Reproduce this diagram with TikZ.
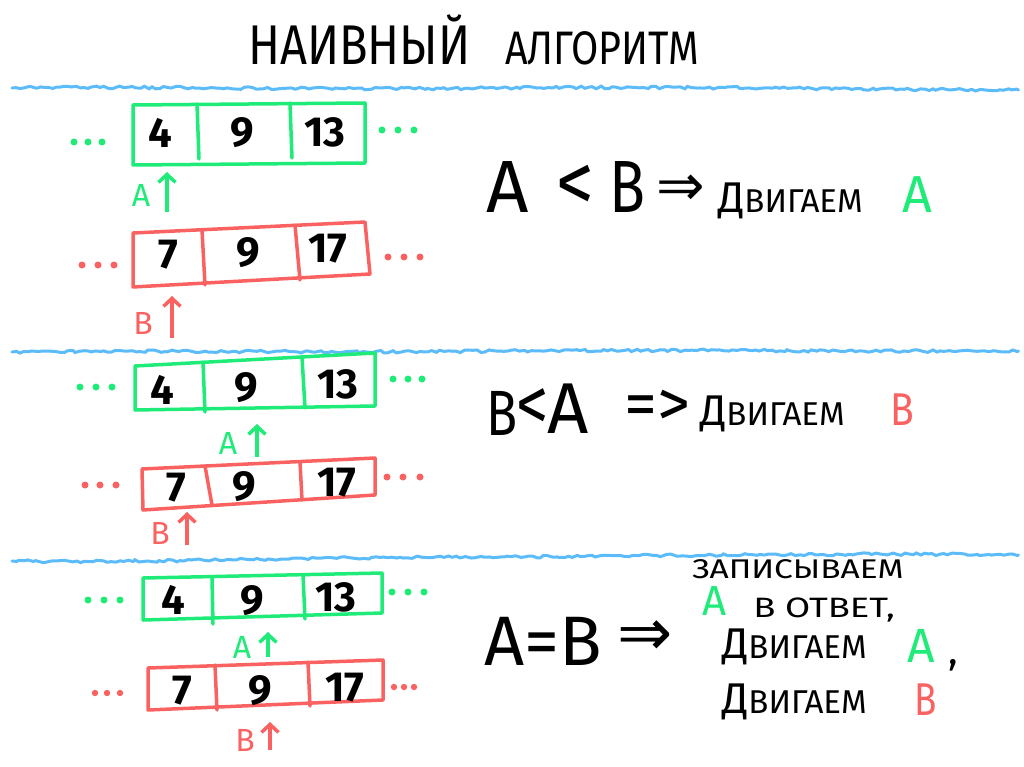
\documentclass[tikz,border=0pt]{standalone}
\usepackage{fontspec}
\setmainfont{Fira Sans}
\newfontfamily\symfont{DejaVu Sans}
\usetikzlibrary{arrows.meta,decorations.pathmorphing}
\definecolor{grn}{RGB}{30,235,120}
\definecolor{rd}{RGB}{250,98,98}
\definecolor{sky}{RGB}{92,188,250}
\tikzset{
  box/.style={line width=3.5pt, line join=round, line cap=round},
  gbox/.style={box, draw=grn},
  rbox/.style={box, draw=rd},
  num/.style={font=\fontsize{42}{42}\selectfont\bfseries, text=black, inner sep=0},
  gptr/.style={draw=grn, line width=3.5pt, -{Straight Barb[length=8pt,width=17pt]}},
  rptr/.style={draw=rd, line width=3.5pt, -{Straight Barb[length=8pt,width=17pt]}},
  plbl/.style={inner sep=0, font=\fontsize{32}{32}\selectfont},
  wave/.style={draw=sky, line width=3pt, line cap=round, decorate,
    decoration={random steps, segment length=4pt, amplitude=1.3pt}},
  txt/.style={inner sep=0, anchor=base west, text=black},
  gdot/.style={fill=grn, draw=none},
  rdot/.style={fill=rd, draw=none},
}
\newcommand{\bigD}{{\fontsize{43}{43}\selectfont Д}}
\newcommand{\dvig}{\bigD{\fontsize{33}{33}\selectfont ВИГАЕМ}}
\begin{document}
\begin{tikzpicture}[x=1pt,y=-1pt]
\pgfmathsetseed{7}
\useasboundingbox (0,0) rectangle (1024,767);

% title
\node[txt, font=\fontsize{56}{56}\selectfont, xscale=0.84] (t1) at (248,65) {НАИВНЫЙ};
\node[txt, font=\fontsize{47}{47}\selectfont, xscale=0.84] (t2) at (505,65) {АЛГОРИТМ};

% separators
\draw[wave] (12,88) .. controls (150,86) and (300,90) .. (500,88) .. controls (700,86) and (900,90) .. (1018,90);
\draw[wave] (12,352) .. controls (150,350) and (300,353) .. (500,351) .. controls (700,349) and (900,352) .. (1018,351);
\draw[wave] (12,561) .. controls (150,563) and (300,557) .. (500,557) .. controls (700,555) and (900,553) .. (1018,555);

% ===== section 1 =====
\draw[gbox] (133,105) -- (365,103) -- (365,163) -- (133,165) -- cycle;
\draw[gbox] (197,104) -- (199,159) (290,103) -- (292,158);
\node[num] (a11) at (160,133) {4};
\node[num] (a12) at (242,133) {9};
\node[num] (a13) at (325,132) {13};
\foreach \x in {74,88,102} \fill[gdot] (\x,142) circle (3.5pt);
\foreach \x in {382,398,414} \fill[gdot] (\x,130) circle (3.5pt);
\coordinate (pa1) at (167,212);
\coordinate (ta1) at (167,172);
\draw[gptr] (pa1) -- (ta1);
\node[plbl, text=grn] (la1) at (141,195) {A};

\draw[rbox] (133,233) -- (365,222) -- (370,274) -- (133,287) -- cycle;
\draw[rbox] (202,230) -- (205,285) (295,225) -- (300,280);
\node[num] (b11) at (168,255) {7};
\node[num] (b12) at (248,253) {9};
\node[num] (b13) at (328,249) {17};
\foreach \x in {82,98,114} \fill[rdot] (\x,265) circle (3.5pt);
\foreach \x in {388,404,420} \fill[rdot] (\x,257) circle (3.5pt);
\coordinate (pb1) at (172,338);
\coordinate (tb1) at (172,296);
\draw[rptr] (pb1) -- (tb1);
\node[plbl, text=rd] (lb1) at (143,323) {B};

\node[txt, font=\fontsize{74}{74}\selectfont] (e1a) at (486,213) {A};
\node[inner sep=0, font=\fontsize{84}{84}\selectfont, xscale=0.9] (e1b) at (575,188) {<};
\node[txt, font=\fontsize{74}{74}\selectfont, xscale=0.8] (e1c) at (609,213) {B};
\node[inner sep=0, font=\symfont\fontsize{58}{58}\selectfont] (e1d) at (681,190) {⇒};
\node[txt] (e1e) at (718,213) {\dvig};
\node[txt, text=grn, font=\fontsize{52}{52}\selectfont] (e1f) at (902,213) {A};

% ===== section 2 =====
\draw[gbox] (135,366) -- (375,353) -- (375,406) -- (135,410) -- cycle;
\draw[gbox] (203,362) -- (205,412) (302,357) -- (305,408);
\node[num] (a21) at (162,390) {4};
\node[num] (a22) at (246,388) {9};
\node[num] (a23) at (338,384) {13};
\foreach \x in {80,96,112} \fill[gdot] (\x,387) circle (3.5pt);
\foreach \x in {393,408,422} \fill[gdot] (\x,379) circle (3.5pt);
\coordinate (pa2) at (257,457);
\coordinate (ta2) at (257,424);
\draw[gptr] (pa2) -- (ta2);
\node[plbl, text=grn] (la2) at (228,443) {A};

\draw[rbox] (142,469) -- (375,458) -- (375,495) -- (143,510) -- cycle;
\draw[rbox] (205,466) -- (212,505) (300,462) -- (302,500);
\node[num] (b21) at (176,488) {7};
\node[num] (b22) at (244,487) {9};
\node[num] (b23) at (337,483) {17};
\foreach \x in {85,100,116} \fill[rdot] (\x,485) circle (3.5pt);
\foreach \x in {387,403,420} \fill[rdot] (\x,477) circle (3.5pt);
\coordinate (pb2) at (187,545);
\coordinate (tb2) at (187,512);
\draw[rptr] (pb2) -- (tb2);
\node[plbl, text=rd] (lb2) at (160,533) {B};

\node[txt, font=\fontsize{64}{64}\selectfont, xscale=0.8] (e2a) at (486,435) {B};
\node[inner sep=0, font=\fontsize{76}{76}\selectfont, xscale=0.85] (e2b) at (533,410) {<};
\node[txt, font=\fontsize{72}{72}\selectfont] (e2c) at (547,433) {A};
\node[inner sep=0, font=\fontsize{66}{66}\selectfont] (e2d) at (657,408) {=>};
\node[txt] (e2e) at (700,425) {\dvig};
\node[txt, text=rd, font=\fontsize{46}{46}\selectfont, xscale=0.85] (e2f) at (890,425) {B};

% ===== section 3 =====
\draw[gbox] (143,578) -- (382,573) -- (382,613) -- (143,620) -- cycle;
\draw[gbox] (212,578) -- (213,624) (303,575) -- (305,619);
\node[num] (a31) at (173,600) {4};
\node[num] (a32) at (252,601) {9};
\node[num] (a33) at (336,597) {13};
\foreach \x in {88,104,120} \fill[gdot] (\x,600) circle (3.5pt);
\foreach \x in {392,408,424} \fill[gdot] (\x,592) circle (3.5pt);
\coordinate (pa3) at (268,657);
\coordinate (ta3) at (268,632);
\draw[gptr] (pa3) -- (ta3);
\node[plbl, text=grn] (la3) at (242,647) {A};

\draw[rbox] (148,668) -- (383,660) -- (383,700) -- (148,710) -- cycle;
\draw[rbox] (215,665) -- (217,710) (308,662) -- (310,706);
\node[num] (b31) at (182,691) {7};
\node[num] (b32) at (260,691) {9};
\node[num] (b33) at (345,688) {17};
\foreach \x in {95,107,120} \fill[rdot] (\x,693) circle (3.2pt);
\foreach \x in {394,404,414} \fill[rdot] (\x,687) circle (3.2pt);
\coordinate (pb3) at (270,750);
\coordinate (tb3) at (270,722);
\draw[rptr] (pb3) -- (tb3);
\node[plbl, text=rd] (lb3) at (245,740) {B};

\node[txt, font=\fontsize{70}{70}\selectfont] (e3a) at (484,665) {A=B};
\node[inner sep=0, font=\symfont\fontsize{66}{66}\selectfont] (e3b) at (645,638) {⇒};
\node[txt, font=\fontsize{27}{27}\selectfont, xscale=1.24] (e3c) at (692,578) {ЗАПИСЫВАЕМ};
\node[txt, text=grn, font=\fontsize{42}{42}\selectfont] (e3d) at (702,615) {A};
\node[txt, font=\fontsize{28}{28}\selectfont, xscale=1.3] (e3e) at (753,617) {В ОТВЕТ,};
\node[txt] (e3f) at (722,658) {\dvig};
\node[txt, text=grn, font=\fontsize{48}{48}\selectfont] (e3g) at (907,662) {A};
\node[txt, font=\fontsize{40}{40}\selectfont] (e3h) at (948,664) {,};
\node[txt] (e3i) at (722,713) {\dvig};
\node[txt, text=rd, font=\fontsize{46}{46}\selectfont, xscale=0.8] (e3j) at (914,715) {B};
\end{tikzpicture}
\end{document}
